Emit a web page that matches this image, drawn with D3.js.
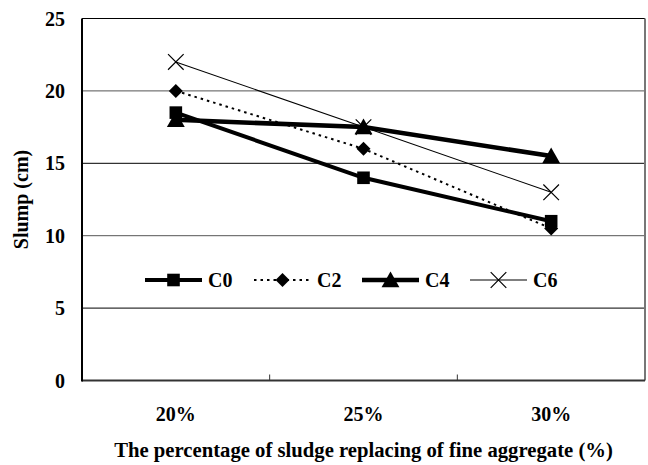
<!DOCTYPE html>
<html><head><meta charset="utf-8">
<script src="https://cdn.jsdelivr.net/npm/d3@7"></script>
<style>body{margin:0;background:#fff}svg{display:block}</style>
</head><body>
<svg id="c" width="648" height="465" font-family="'Times New Roman', 'Liberation Serif', Tinos, 'DejaVu Serif', serif" font-weight="bold"></svg>
<script>
const categories = ["20%", "25%", "30%"];
const seriesNames = ["C0", "C2", "C4", "C6"];
const c0 = [18.5, 14, 11];
const c2 = [20, 16, 10.5];
const c4 = [18, 17.5, 15.5];
const c6 = [22, 17.5, 13];
const yTicks = [0, 5, 10, 15, 20, 25];
const xTitle = "The percentage of sludge replacing of fine aggregate (%)";
const yTitle = "Slump (cm)";

const svg = d3.select("#c");
const L = 82, R = 645, T = 18.5, B = 380.5;
const x = d3.scaleBand().domain(categories).range([L, R]);
const y = d3.scaleLinear().domain([0, 25]).range([B, T]);
const cx = c => x(c) + x.bandwidth() / 2;

const sq = {draw(ctx, s){ const h = s; ctx.moveTo(-h,-h); ctx.lineTo(h,-h); ctx.lineTo(h,h); ctx.lineTo(-h,h); ctx.closePath(); }};
const dia = {draw(ctx, s){ ctx.moveTo(0,-s); ctx.lineTo(s,0); ctx.lineTo(0,s); ctx.lineTo(-s,0); ctx.closePath(); }};
const tri = {draw(ctx, s){ ctx.moveTo(0,-s); ctx.lineTo(s*1.05,s*0.85); ctx.lineTo(-s*1.05,s*0.85); ctx.closePath(); }};
const ex = {draw(ctx, s){ ctx.moveTo(-s,-s); ctx.lineTo(s,s); ctx.moveTo(s,-s); ctx.lineTo(-s,s); }};

const series = [
  {name: seriesNames[0], values: c0, width: 4, dash: null, sym: sq, size: 6.3, fill: true},
  {name: seriesNames[1], values: c2, width: 2, dash: "2.5,4", sym: dia, size: 7, fill: true},
  {name: seriesNames[2], values: c4, width: 4.5, dash: null, sym: tri, size: 8.5, fill: true},
  {name: seriesNames[3], values: c6, width: 1.1, dash: null, sym: ex, size: 7.8, fill: false}
];

svg.append("g").selectAll("line").data(yTicks.filter(v => v > 0 && v < 25)).join("line")
  .attr("x1", L).attr("x2", R).attr("y1", d => y(d)).attr("y2", d => y(d))
  .attr("stroke", (d, i) => i % 2 ? "#555" : "#000").attr("stroke-width", 1);

svg.append("line").attr("x1", L).attr("x2", R).attr("y1", y(25)).attr("y2", y(25)).attr("stroke", "#000").attr("stroke-width", 1.2);
svg.append("line").attr("x1", R).attr("x2", R).attr("y1", y(25)).attr("y2", y(0)).attr("stroke", "#777").attr("stroke-width", 2);

const xa = svg.append("g");
xa.append("line").attr("x1", L).attr("x2", R).attr("y1", y(0)).attr("y2", y(0)).attr("stroke", "#333").attr("stroke-width", 2);
const bounds = categories.map(c => x(c)).concat([R]);
xa.selectAll("line.t").data(bounds.slice(1, -1)).join("line").attr("class", "t")
  .attr("x1", d => d).attr("x2", d => d).attr("y1", y(0)).attr("y2", y(0) - 6)
  .attr("stroke", "#333").attr("stroke-width", 1);
xa.selectAll("text").data(categories).join("text")
  .attr("x", d => cx(d)).attr("y", 421).attr("text-anchor", "middle")
  .attr("font-size", 20).attr("fill", "#000").text(d => d);

const ya = svg.append("g");
ya.append("line").attr("x1", L).attr("x2", L).attr("y1", y(25)).attr("y2", y(0) + 1).attr("stroke", "#000").attr("stroke-width", 2);
ya.selectAll("text").data(yTicks).join("text")
  .attr("x", 65).attr("y", d => y(d)).attr("dy", "0.35em").attr("text-anchor", "end")
  .attr("font-size", 20).attr("fill", "#000").text(d => d);

svg.append("text").attr("x", (L + R) / 2).attr("y", 457).attr("text-anchor", "middle")
  .attr("font-size", 20.7).attr("fill", "#000").text(xTitle);
svg.append("text").attr("transform", `translate(28,${(T + B) / 2}) rotate(-90)`).attr("text-anchor", "middle")
  .attr("font-size", 20).attr("fill", "#000").text(yTitle);

const line = d3.line().x((d, i) => cx(categories[i])).y(d => y(d));
series.forEach(s => {
  const g = svg.append("g");
  g.append("path").attr("d", line(s.values)).attr("fill", "none").attr("stroke", "#000")
    .attr("stroke-width", s.width).attr("stroke-dasharray", s.dash);
  g.selectAll("path.m").data(s.values).join("path").attr("class", "m")
    .attr("transform", (d, i) => `translate(${cx(categories[i])},${y(d)})`)
    .attr("d", d3.symbol().type(s.sym).size(s.size))
    .attr("fill", s.fill ? "#000" : "none").attr("stroke", s.fill ? "none" : "#000").attr("stroke-width", 1.2);
});

const legX = [145, 254, 362, 470];
const legY = 280;
series.forEach((s, i) => {
  const g = svg.append("g").attr("transform", `translate(${legX[i]},${legY})`);
  g.append("line").attr("x1", 0).attr("x2", 57).attr("y1", 0).attr("y2", 0)
    .attr("stroke", "#000").attr("stroke-width", s.width).attr("stroke-dasharray", s.dash);
  g.append("path").attr("transform", "translate(28.5,0)").attr("d", d3.symbol().type(s.sym).size(s.size))
    .attr("fill", s.fill ? "#000" : "none").attr("stroke", s.fill ? "none" : "#000").attr("stroke-width", 1.2);
  g.append("text").attr("x", 63).attr("y", 0).attr("dy", "0.35em").attr("font-size", 20).attr("fill", "#000").text(s.name);
});
</script>
</body></html>
